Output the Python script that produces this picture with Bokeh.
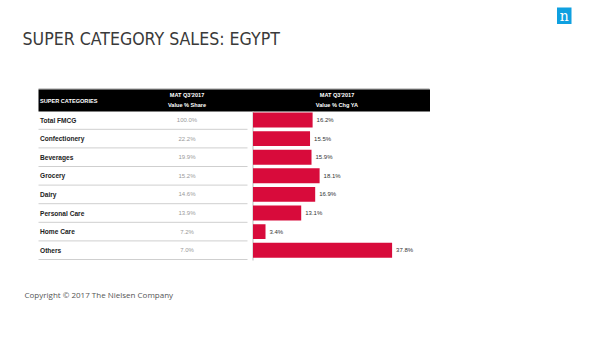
from bokeh.plotting import figure
from bokeh.models import Range1d
from bokeh.embed import file_html
from bokeh.resources import INLINE
from bokeh.core.properties import value

# ---- data ----
categories = ["Total FMCG", "Confectionery", "Beverages", "Grocery", "Dairy",
              "Personal Care", "Home Care", "Others"]
share = [100.0, 22.2, 19.9, 15.2, 14.6, 13.9, 7.2, 7.0]
chg_ya = [16.2, 15.5, 15.9, 18.1, 16.9, 13.1, 3.4, 37.8]
share_labels = [f"{v:.1f}%" for v in share]
chg_labels = [f"{v:.1f}%" for v in chg_ya]
rows = list(range(len(categories)))

title = "SUPER CATEGORY SALES: EGYPT"
col0_header = "SUPER CATEGORIES"
col1_header = ["MAT Q3'2017", "Value % Share"]
col2_header = ["MAT Q3'2017", "Value % Chg YA"]
footer = "Copyright \u00a9 2017 The Nielsen Company"

# ---- layout helpers (pixel -> data units) ----
W, H = 600, 341
PX_PER_UNIT = 3.68
X0_PX = 252.5
ROW_PX = 18.6
Y0_PX = 119.5


def X(px):
    return (px - X0_PX) / PX_PER_UNIT


def Y(py):
    return (py - Y0_PX) / ROW_PX


RED = "#d80b3b"
ARIAL = value("Liberation Sans")

p = figure(width=W, height=H, x_range=Range1d(X(0), X(W)), y_range=Range1d(Y(H), Y(0)),
           output_backend="svg", toolbar_location=None, min_border=0,
           x_axis_type=None, y_axis_type=None)
p.grid.visible = False
p.outline_line_color = None
p.background_fill_color = "white"
p.border_fill_color = "white"

# title
p.text(x=[X(22)], y=[Y(38.5)], text=[title], text_font=value("DejaVu Sans Condensed"),
       text_font_size="17.6px", text_color="#3a3a3a", text_baseline="middle", text_align="left")

# logo
p.quad(left=[X(556.5)], right=[X(571)], top=[Y(7)], bottom=[Y(23.5)], fill_color="#0fa0e0", line_color=None)
p.text(x=[X(563.8)], y=[Y(15.5)], text=["n"], text_font=value("DejaVu Serif"), text_font_size="14px",
       text_color="white", text_baseline="middle", text_align="center")

# header band
p.segment(x0=[X(38)], x1=[X(429)], y0=[Y(88.5)], y1=[Y(88.5)], line_color="#999999", line_width=1)
p.quad(left=[X(38)], right=[X(429.5)], top=[Y(89)], bottom=[Y(111)], fill_color="black", line_color=None)
p.text(x=[X(39.5)], y=[Y(100)], text=[col0_header], text_font=ARIAL, text_font_size="5.6px",
       text_font_style="bold", text_color="white", text_baseline="middle", text_align="left")
p.text(x=[X(186.5)] * 2, y=[Y(94.5), Y(104.5)], text=col1_header, text_font=ARIAL, text_font_size="5.6px",
       text_font_style="bold", text_color="white", text_baseline="middle", text_align="center")
p.text(x=[X(336.5)] * 2, y=[Y(94.5), Y(104.5)], text=col2_header, text_font=ARIAL, text_font_size="5.6px",
       text_font_style="bold", text_color="white", text_baseline="middle", text_align="center")

# row separators
sep_y = [r + 0.5 for r in rows]
p.segment(x0=[X(38)] * len(rows), x1=[X(247)] * len(rows), y0=sep_y, y1=sep_y,
          line_color="#cfcfcf", line_width=1)

# vertical axis line at zero
p.segment(x0=[0], x1=[0], y0=[Y(111)], y1=[Y(260)], line_color="#bdbdbd", line_width=1)

# category labels and shares
p.text(x=[X(39.5)] * len(rows), y=rows, text=categories, text_font=ARIAL, text_font_size="6.6px",
       text_font_style="bold", text_color="#222222", text_baseline="middle", text_align="left")
p.text(x=[X(186.5)] * len(rows), y=rows, text=share_labels, text_font=ARIAL, text_font_size="6px",
       text_color="#9a9a9a", text_baseline="middle", text_align="center")

# bars
p.hbar(y=rows, left=0, right=chg_ya, height=0.8, fill_color=RED, line_color=None)
p.text(x=chg_ya, y=rows, text=chg_labels, x_offset=4, text_font=ARIAL, text_font_size="6px",
       text_color="#333333", text_baseline="middle", text_align="left")

# footer
p.text(x=[X(24)], y=[Y(293.5)], text=[footer], text_font=value("Open Sans"), text_font_size="8px",
       text_color="#555555", text_baseline="middle", text_align="left")

open("out.html", "w").write(file_html(p, INLINE))
